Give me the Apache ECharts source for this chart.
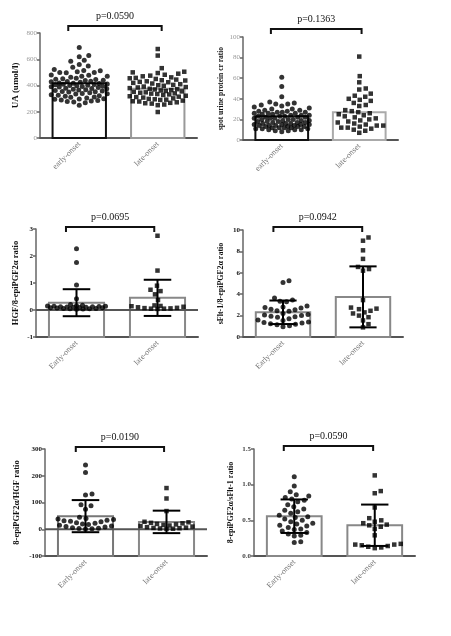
<!DOCTYPE html>
<html>
<head>
<meta charset="utf-8">
<script src="https://cdn.jsdelivr.net/npm/echarts@6/dist/echarts.min.js"></script>
<style>
  html, body { margin: 0; padding: 0; background: #fff; }
  #main { width: 451px; height: 636px; }
</style>
</head>
<body>
<div id="main"></div>
<script>
// categories
var catsLower = ['early-onset', 'late-onset'];
var catsUpper = ['Early-onset', 'late-onset'];

// UA (umol/l)
var uaEarly = [690, 628, 620, 592, 585, 560, 548, 540, 522, 515, 512, 505, 500, 500, 498, 480, 478, 470, 470, 462,
  455, 452, 448, 445, 440, 438, 432, 430, 428, 425, 420, 418, 415, 412, 410, 408, 405, 402, 400, 398,
  395, 392, 390, 388, 385, 380, 378, 375, 372, 368, 365, 362, 358, 355, 352, 350, 345, 340, 338, 335,
  330, 325, 322, 318, 312, 310, 305, 300, 298, 295, 290, 285, 282, 278, 275, 268, 250];
var uaLate = [678, 628, 532, 505, 500, 495, 490, 482, 475, 470, 462, 458, 455, 450, 445, 440, 438, 432, 428, 425,
  420, 415, 410, 405, 402, 398, 392, 388, 385, 380, 375, 372, 370, 365, 362, 358, 355, 352, 348, 345,
  340, 338, 335, 332, 328, 322, 318, 315, 312, 308, 302, 298, 295, 292, 290, 285, 280, 278, 272, 268,
  265, 262, 255, 250, 198];
var uaMean = [417, 375];

// spot urine protein ratio
var upEarly = [61, 52, 42, 37, 36, 35, 35, 34, 33, 32, 31, 30, 30, 29, 29, 28, 28, 27, 27, 27,
  26, 26, 26, 25, 25, 24, 24, 24, 23, 23, 23, 22, 22, 22, 21, 21, 21, 20, 20, 20,
  19, 19, 19, 18, 18, 18, 17, 17, 17, 16, 16, 16, 15, 15, 15, 15, 14, 14, 14, 14,
  13, 13, 13, 13, 12, 12, 12, 12, 11, 11, 11, 10, 10, 10, 9, 9, 8];
var upLate = [81, 62, 56, 50, 49, 45, 43, 42, 40, 39, 38, 36, 34, 33, 29, 28, 27, 26, 25, 24,
  23, 22, 21, 20, 19, 18, 17, 16, 15, 14, 14, 13, 12, 12, 11, 10, 9, 7];
var upMean = [23, 27];

// HGF/8-epiPGF2a
var hgfEarly = [2.27, 1.76, 0.93, 0.42, 0.2, 0.18, 0.16, 0.15, 0.14, 0.14, 0.13, 0.12, 0.12, 0.11, 0.1, 0.1,
  0.09, 0.08, 0.08, 0.07, 0.06, 0.06, 0.05, 0.05, 0.04, 0.03];
var hgfLate = [2.75, 1.46, 0.9, 0.75, 0.7, 0.58, 0.37, 0.17, 0.15, 0.14, 0.12, 0.1, 0.08, 0.07, 0.06, 0.05, 0.05, 0.04];
var hgfMean = [0.27, 0.45];
var hgfSd = [0.5, 0.67];

// sFlt-1/8-epiPGF2a
var sfltEarly = [5.25, 5.1, 3.65, 3.45, 3.35, 3.3, 2.9, 2.8, 2.75, 2.7, 2.6, 2.55, 2.45, 2.4, 2.2, 2.1,
  2.05, 2.0, 1.95, 1.9, 1.85, 1.7, 1.6, 1.55, 1.4, 1.35, 1.3, 1.25, 1.2, 1.15, 1.05, 0.95];
var sfltLate = [9.3, 9.0, 8.1, 7.3, 6.55, 6.35, 6.2, 3.45, 2.75, 2.65, 2.6, 2.45, 2.3, 2.2, 2.0, 1.85, 1.55, 1.2, 0.9];
var sfltMean = [2.31, 3.75];
var sfltSd = [1.1, 2.85];

// 8-epiPGF2a/HGF
var epiHgfEarly = [240, 212, 132, 128, 92, 88, 75, 45, 40, 38, 36, 34, 32, 30, 28, 24, 22, 20, 18, 15,
  12, 10, 8, 6, 4, 3, 2, 1];
var epiHgfLate = [154, 115, 68, 28, 26, 24, 22, 20, 18, 16, 14, 12, 10, 8, 6, 5, 4, 3, 2, 1];
var epiHgfMean = [49, 27.5];
var epiHgfSd = [60, 42];

// 8-epiPGF2a/sFlt-1
var epiSfltEarly = [1.11, 0.98, 0.9, 0.86, 0.84, 0.82, 0.8, 0.78, 0.76, 0.72, 0.69, 0.66, 0.64, 0.62, 0.6, 0.57,
  0.55, 0.54, 0.52, 0.5, 0.48, 0.46, 0.45, 0.43, 0.42, 0.4, 0.38, 0.37, 0.35, 0.33, 0.31, 0.29, 0.28, 0.2, 0.19];
var epiSfltLate = [1.13, 0.91, 0.88, 0.68, 0.53, 0.5, 0.48, 0.46, 0.44, 0.43, 0.41, 0.38, 0.29, 0.17, 0.16, 0.16,
  0.15, 0.14, 0.13, 0.12, 0.11];
var epiSfltMean = [0.558, 0.431];
var epiSfltSd = [0.235, 0.29];

var pValues = ['p=0.0590', 'p=0.1363', 'p=0.0695', 'p=0.0942', 'p=0.0190', 'p=0.0590'];
var yNames = ['UA (umol/l)', 'spot urine protein cr ratio', 'HGF/8-epiPGF2α ratio',
  'sFlt-1/8-epiPGF2α ratio', '8-epiPGF2α/HGF ratio', '8-epiPGF2α/sFlt-1 ratio'];
var yMin = [0, 0, -1, 0, -100, 0];
var yMax = [800, 100, 3, 10, 300, 1.5];
var yStep = [200, 20, 1, 2, 100, 0.5];

var serif = 'Liberation Serif';

var panels = [
  { early: uaEarly, late: uaLate, mean: uaMean, sd: null, cats: catsLower,
    box: { left: 40, top: 33, width: 157, height: 105 }, gap: 20, nameSize: 9,
    span: [-0.14, 1.05], lift: 7, stroke: ['#111', '#999'], tickColor: '#999', tickBold: 'normal', dec: 0 },
  { early: upEarly, late: upLate, mean: upMean, sd: null, cats: catsLower,
    box: { left: 243, top: 37, width: 155, height: 103 }, gap: 18, nameSize: 7.5,
    span: [-0.14, 1.03], lift: 8, stroke: ['#111', '#aaa'], tickColor: '#999', tickBold: 'normal', dec: 0 },
  { early: hgfEarly, late: hgfLate, mean: hgfMean, sd: hgfSd, cats: catsUpper, zero: true,
    box: { left: 36, top: 229, width: 162, height: 108 }, gap: 16, nameSize: 8.5,
    span: [-0.13, 0.96], lift: 2, stroke: ['#888', '#888'], tickColor: '#111', tickBold: 'bold', dec: 0 },
  { early: sfltEarly, late: sfltLate, mean: sfltMean, sd: sfltSd, cats: catsUpper,
    box: { left: 243, top: 230, width: 160, height: 107 }, gap: 18, nameSize: 8,
    span: [-0.12, 0.99], lift: 3, stroke: ['#888', '#888'], tickColor: '#111', tickBold: 'bold', dec: 0 },
  { early: epiHgfEarly, late: epiHgfLate, mean: epiHgfMean, sd: epiHgfSd, cats: catsUpper, zero: true,
    box: { left: 45, top: 449, width: 162, height: 107 }, gap: 24, nameSize: 8.5,
    span: [-0.12, 0.97], lift: 2, stroke: ['#777', '#888'], tickColor: '#111', tickBold: 'bold', dec: 0 },
  { early: epiSfltEarly, late: epiSfltLate, mean: epiSfltMean, sd: epiSfltSd, cats: catsUpper,
    box: { left: 254, top: 449, width: 161, height: 107 }, gap: 19, nameSize: 8,
    span: [-0.13, 0.98], lift: 3, stroke: ['#888', '#888'], tickColor: '#444', tickBold: 'bold', dec: 1 }
];

var DOT = 5;
var GAP = 6.2;       // wanted distance between dot centres, px
var SPREAD = 0.36;   // max sideways spread, in category widths
var HALF_BAR = 0.34;

// beeswarm: put each dot at the nearest free sideways slot, or the least crowded one
function swarm(values, idx, box, min, max) {
  var ppx = box.width / 2, ppy = box.height / (max - min);
  var lim = SPREAD * ppx;
  var cands = [0];
  for (var s = 0.5; s <= lim; s += 0.5) cands.push(s, -s);
  var placed = [], out = [];
  values.slice().sort(function (a, b) { return a - b; }).forEach(function (v) {
    var y = v * ppy, best = 0, bestD = -1;
    for (var c = 0; c < cands.length; c++) {
      var off = cands[c], d = Infinity;
      for (var j = 0; j < placed.length; j++) {
        var dx = placed[j][0] - off, dy = placed[j][1] - y;
        d = Math.min(d, Math.sqrt(dx * dx + dy * dy));
      }
      if (d >= GAP) { best = off; break; }
      if (d > bestD) { bestD = d; best = off; }
    }
    placed.push([best, y]);
    out.push([idx + best / ppx, v]);
  });
  return out;
}

var grids = [], xAxes = [], yAxes = [], series = [];

panels.forEach(function (pn, k) {
  var min = yMin[k], max = yMax[k];
  grids.push(pn.box);
  xAxes.push({
    gridIndex: k, type: 'category', data: pn.cats,
    axisLine: { onZero: false, lineStyle: { color: '#555', width: 2 } },
    axisTick: { alignWithLabel: true, length: 3, lineStyle: { color: '#555', width: 1.5 } },
    axisLabel: { rotate: 45, fontSize: 8, fontFamily: serif, color: '#777', margin: 5 }
  });
  xAxes.push({ gridIndex: k, type: 'value', min: -0.5, max: 1.5, show: false });
  yAxes.push({
    gridIndex: k, type: 'value', min: min, max: max, interval: yStep[k],
    name: yNames[k], nameLocation: 'middle', nameGap: pn.gap, nameRotate: 90,
    nameTextStyle: { fontFamily: serif, fontWeight: 'bold', fontSize: pn.nameSize, color: '#111' },
    axisLine: { show: true, onZero: false, lineStyle: { color: '#666', width: 1.5 } },
    axisTick: { show: true, length: 3, lineStyle: { color: '#666', width: 1.5 } },
    splitLine: { show: false },
    axisLabel: {
      fontSize: 7, fontFamily: serif, color: pn.tickColor, fontWeight: pn.tickBold, margin: 3,
      formatter: function (v) { return v.toFixed(pn.dec); }
    }
  });
  var xi = k * 2 + 1;

  // bars from axis minimum up to the mean
  series.push({
    type: 'custom', xAxisIndex: xi, yAxisIndex: k, z: 2, clip: false,
    data: pn.mean.map(function (m, i) { return [i, m]; }),
    renderItem: function (params, api) {
      var i = api.value(0);
      var p0 = api.coord([i - HALF_BAR, min]);
      var p1 = api.coord([i + HALF_BAR, api.value(1)]);
      return {
        type: 'rect',
        shape: { x: p0[0], y: p1[1], width: p1[0] - p0[0], height: p0[1] - p1[1] },
        style: { fill: '#fff', stroke: pn.stroke[i], lineWidth: 2 }
      };
    }
  });

  if (pn.zero) {
    series.push({
      type: 'custom', xAxisIndex: xi, yAxisIndex: k, z: 3,
      data: [[0, 0]],
      renderItem: function (params, api) {
        var a = api.coord([-0.5, 0]), b = api.coord([1.5, 0]);
        return { type: 'line', shape: { x1: a[0], y1: a[1], x2: b[0], y2: b[1] },
          style: { stroke: '#555', lineWidth: 2 } };
      }
    });
  }

  series.push({
    type: 'scatter', xAxisIndex: xi, yAxisIndex: k, z: 4,
    symbol: 'circle', symbolSize: DOT,
    itemStyle: { color: '#000' },
    data: swarm(pn.early, 0, pn.box, min, max)
  });
  series.push({
    type: 'scatter', xAxisIndex: xi, yAxisIndex: k, z: 4,
    symbol: 'rect', symbolSize: DOT - 0.5,
    itemStyle: { color: '#000' },
    data: swarm(pn.late, 1, pn.box, min, max)
  });

  if (pn.sd) {
    series.push({
      type: 'custom', xAxisIndex: xi, yAxisIndex: k, z: 5,
      data: pn.mean.map(function (m, i) { return [i, m, pn.sd[i]]; }),
      renderItem: function (params, api) {
        var i = api.value(0), m = api.value(1), s = api.value(2);
        var top = api.coord([i, m + s]), bot = api.coord([i, m - s]);
        var cw = api.coord([i + 0.17, m])[0] - top[0];
        var st = { stroke: '#000', lineWidth: 2 };
        return { type: 'group', children: [
          { type: 'line', shape: { x1: top[0], y1: top[1], x2: bot[0], y2: bot[1] }, style: st },
          { type: 'line', shape: { x1: top[0] - cw, y1: top[1], x2: top[0] + cw, y2: top[1] }, style: st },
          { type: 'line', shape: { x1: bot[0] - cw, y1: bot[1], x2: bot[0] + cw, y2: bot[1] }, style: st }
        ] };
      }
    });
  }

  // significance bracket with p value
  series.push({
    type: 'custom', xAxisIndex: xi, yAxisIndex: k, z: 5, clip: false,
    data: [[pn.span[0], pn.span[1]]],
    renderItem: function (params, api) {
      var a = api.coord([api.value(0), max]), b = api.coord([api.value(1), max]);
      var y = a[1] - pn.lift;
      return { type: 'group', children: [
        { type: 'polyline', shape: { points: [[a[0], y + 5], [a[0], y], [b[0], y], [b[0], y + 5]] },
          style: { stroke: '#111', lineWidth: 2, fill: null } },
        { type: 'text', x: (a[0] + b[0]) / 2, y: y - 10,
          style: { text: pValues[k], fontFamily: serif, fontSize: 10, fill: '#111',
            align: 'center', verticalAlign: 'middle' } }
      ] };
    }
  });
});

var chart = echarts.init(document.getElementById('main'), null, { renderer: 'canvas' });
chart.setOption({
  backgroundColor: '#fff',
  animation: false,
  grid: grids,
  xAxis: xAxes,
  yAxis: yAxes,
  series: series
});
</script>
</body>
</html>
